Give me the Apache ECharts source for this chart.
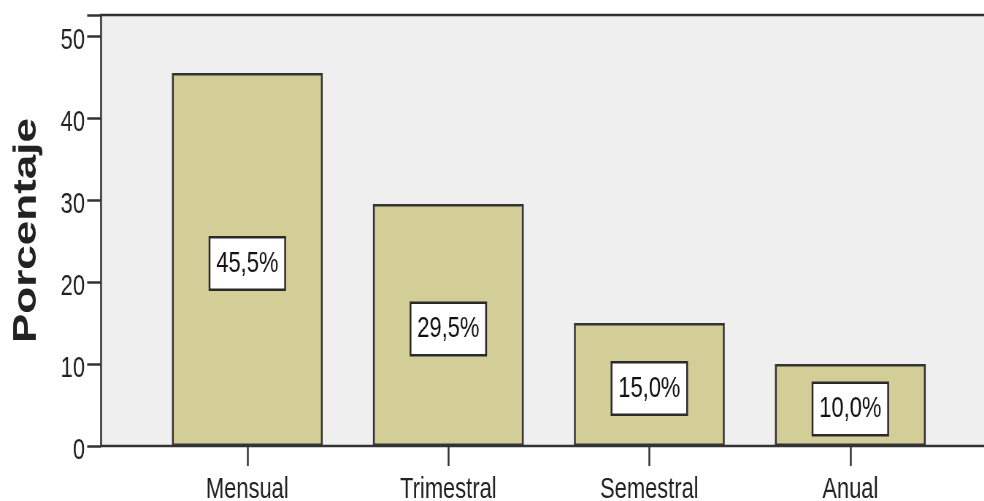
<!DOCTYPE html>
<html>
<head>
<meta charset="utf-8">
<script src="https://cdn.jsdelivr.net/npm/echarts@6/dist/echarts.min.js"></script>
<style>
  html, body { margin: 0; padding: 0; background: #ffffff; overflow: hidden; }
  #wrap { width: 984px; height: 501px; overflow: hidden; }
  /* the chart is laid out wide and condensed horizontally, like the exported SPSS figure */
  #chart { width: 1348px; height: 501px; transform: scaleX(0.73); transform-origin: 0 0; }
</style>
</head>
<body>
<div id="wrap"><div id="chart"></div></div>
<script>
// Frecuencia de las respuestas (porcentaje)
const categories = ['Mensual', 'Trimestral', 'Semestral', 'Anual'];
const percentages = [45.5, 29.5, 15.0, 10.0];
const yTicks = [0, 10, 20, 30, 40, 50];
const yTitle = 'Porcentaje';

const FONT = '"Liberation Sans", Arial, sans-serif';
const INK = '#222222';
const LINE = '#333333';
const Y_MAX = 52.56;

const chart = echarts.init(document.getElementById('chart'), null, { renderer: 'canvas' });

chart.setOption({
  animation: false,
  backgroundColor: '#ffffff',
  grid: [
    // plotting frame with the grey panel and the percentage axis
    { left: 138.4, top: 15, width: 1240, bottom: 55, show: true, outerBoundsMode: 'none',
      containLabel: false,
      backgroundColor: '#efefef', borderColor: LINE, borderWidth: 2.5 },
    // band used by the bars and category labels
    { left: 201.1, top: 15, width: 1101.4, bottom: 55, outerBoundsMode: 'none',
      containLabel: false }
  ],
  xAxis: [
    { type: 'value', gridIndex: 0, min: 0, max: 1, show: false },
    { type: 'category', gridIndex: 1, data: categories,
      axisLine: { show: false },
      axisTick: { show: true, alignWithLabel: true, length: 20,
        lineStyle: { color: LINE, width: 2.5 } },
      axisLabel: { fontFamily: FONT, fontSize: 30, color: INK, margin: 29 } }
  ],
  yAxis: [
    { type: 'value', gridIndex: 0, min: 0, max: Y_MAX, interval: 10,
      name: yTitle, nameLocation: 'middle', nameGap: 80,
      nameTextStyle: { fontFamily: FONT, fontWeight: 'bold', fontSize: 44, color: INK },
      axisLine: { show: false },
      axisTick: { show: true, length: 19, lineStyle: { color: LINE, width: 2.5 } },
      splitLine: { show: false },
      axisLabel: { margin: 22,
        formatter: v => (yTicks.indexOf(v) >= 0 ? '{t|' + v + '}' : ''),
        rich: { t: { fontFamily: FONT, fontSize: 30, color: INK, padding: [9, 0, 0, 0] } } } },
    { type: 'value', gridIndex: 1, min: 0, max: Y_MAX, show: false }
  ],
  series: [{
    type: 'bar',
    xAxisIndex: 1,
    yAxisIndex: 1,
    data: percentages,
    barCategoryGap: '25%',
    itemStyle: { color: '#d3ce98', borderColor: LINE, borderWidth: 2.5 },
    label: {
      show: true,
      position: 'inside',
      offset: [0, 4],
      formatter: p => p.value.toFixed(1).replace('.', ',') + '%',
      fontFamily: FONT, fontSize: 30, color: '#111111',
      backgroundColor: '#ffffff', borderColor: '#2a2a2a', borderWidth: 2.5,
      padding: [11, 8, 9, 8]
    }
  }]
});
</script>
</body>
</html>
